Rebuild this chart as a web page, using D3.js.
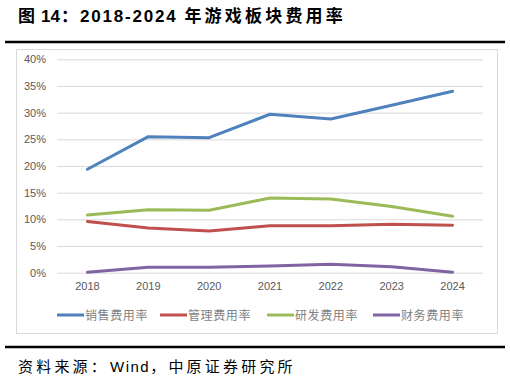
<!DOCTYPE html>
<html><head><meta charset="utf-8">
<script src="https://cdn.jsdelivr.net/npm/d3@7"></script>
<style>body{margin:0;background:#fff}svg{display:block}</style>
</head><body>
<svg id="c" width="510" height="379"></svg>
<script>
const years = ["2018","2019","2020","2021","2022","2023","2024"];
const seriesNames = ["销售费用率","管理费用率","研发费用率","财务费用率"];
const sales = [19.4, 25.5, 25.3, 29.7, 28.8, 31.4, 34.0];
const admin = [9.6, 8.4, 7.8, 8.8, 8.8, 9.1, 8.9];
const rnd = [10.8, 11.8, 11.7, 14.0, 13.8, 12.4, 10.6];
const fin = [0.1, 1.0, 1.0, 1.25, 1.6, 1.1, 0.1];
const yTicks = [0,5,10,15,20,25,30,35,40];
const colors = ["#4F81BD","#C0504D","#9BBB59","#8064A2"];
const allSeries = [sales, admin, rnd, fin];

const svg = d3.select("#c");
const cjk = "'Noto Sans CJK SC', sans-serif";
const latin = "'Liberation Sans', Arial, sans-serif";

// title
const t = svg.append("text").attr("x",18).attr("y",22).attr("font-weight","bold")
  .attr("font-size",17).attr("fill","#000");
t.append("tspan").attr("font-family",cjk).text("图");
t.append("tspan").attr("font-family",latin).attr("dx",6).text("14");
t.append("tspan").attr("font-family",cjk).attr("dx",1).text("：");
t.append("tspan").attr("font-family",latin).attr("letter-spacing",1.8).attr("dx",2).text("2018-2024");
t.append("tspan").attr("font-family",cjk).attr("letter-spacing",3.2).attr("dx",7).text("年游戏板块费用率");

svg.append("line").attr("x1",5).attr("x2",505).attr("y1",42).attr("y2",42).attr("stroke","#000").attr("stroke-width",2.5);
// chart box
svg.append("rect").attr("x",16.5).attr("y",49.5).attr("width",481).attr("height",284).attr("fill","none").attr("stroke","#d9d9d9").attr("stroke-width",1);

const x = d3.scaleBand().domain(years).range([57,483]);
const y = d3.scaleLinear().domain([0,40]).range([272.7,59.3]);

// grid
const gy = svg.append("g").attr("transform","translate(57,0)")
  .call(d3.axisLeft(y).tickValues(yTicks).tickSize(-426).tickFormat(d=>d+"%"));
gy.select(".domain").remove();
gy.selectAll(".tick line").attr("stroke","#d9d9d9").attr("stroke-width",1);
gy.selectAll(".tick text").attr("x",-11).attr("fill","#595959").attr("font-size",11).attr("font-family",latin);

const gx = svg.append("g").attr("transform","translate(0,272.7)")
  .call(d3.axisBottom(x).tickSize(0).tickPadding(10));
gx.select(".domain").remove();
gx.selectAll(".tick text").attr("fill","#595959").attr("font-size",11).attr("font-family",latin);

const line = d3.line().x((d,i)=>x(years[i])+x.bandwidth()/2).y(d=>y(d));
allSeries.forEach((s,k)=>{
  svg.append("path").datum(s).attr("d",line).attr("fill","none").attr("stroke",colors[k])
    .attr("stroke-width",3).attr("stroke-linejoin","round").attr("stroke-linecap","round");
});

// legend
const lx = [57,160,267,373];
seriesNames.forEach((n,k)=>{
  svg.append("line").attr("x1",lx[k]).attr("x2",lx[k]+27).attr("y1",315).attr("y2",315)
    .attr("stroke",colors[k]).attr("stroke-width",3);
  svg.append("text").attr("x",lx[k]+28).attr("y",319.5).attr("font-family",cjk).attr("font-size",12)
    .attr("letter-spacing",0.6).attr("fill","#7f7f7f").text(n);
});

svg.append("line").attr("x1",5).attr("x2",505).attr("y1",347).attr("y2",347).attr("stroke","#000").attr("stroke-width",2.5);
const s = svg.append("text").attr("x",18).attr("y",372).attr("font-size",15).attr("fill","#000");
s.append("tspan").attr("font-family",cjk).attr("letter-spacing",3.2).text("资料来源：");
s.append("tspan").attr("font-family",latin).attr("letter-spacing",1.5).attr("dx",1).text("Wind");
s.append("tspan").attr("font-family",cjk).attr("letter-spacing",3.2).text("，中原证券研究所");
</script>
</body></html>
